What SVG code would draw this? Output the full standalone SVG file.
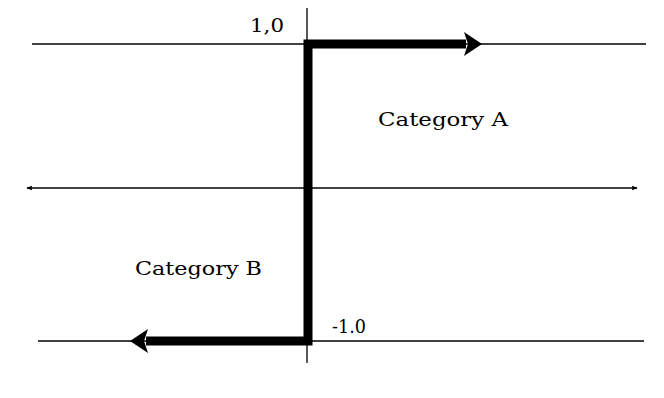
<svg xmlns="http://www.w3.org/2000/svg" width="664" height="398" viewBox="0 0 664 398">
  <style>
    .thin { stroke: #000; stroke-width: 1.3; fill: none; }
    .thick { stroke: #000; stroke-width: 9; fill: none; stroke-linejoin: miter; }
    .lbl { font-family: "DejaVu Serif", "Liberation Serif", serif; font-size: 19px; fill: #000; }
  </style>
  <defs>
    <marker id="small" viewBox="0 0 10 10" refX="9" refY="5" markerWidth="6" markerHeight="6" orient="auto-start-reverse" markerUnits="userSpaceOnUse">
      <path d="M0,1 L10,5 L0,9 L2,5 Z" fill="#000"/>
    </marker>
  </defs>
  <rect width="664" height="398" fill="#fff"/>

  <g id="axes">
    <line class="thin" x1="32" y1="44" x2="646" y2="44"/>
    <line class="thin" x1="38" y1="341" x2="644" y2="341"/>
    <line class="thin" x1="307" y1="8" x2="307" y2="44"/>
    <line class="thin" x1="307" y1="341" x2="307" y2="363"/>
  </g>

  <g id="connectors">
    <line class="thin" x1="27" y1="188" x2="637" y2="188" marker-start="url(#small)" marker-end="url(#small)"/>
    <path class="thick" d="M466,44 H308 V341 H146"/>
    <path d="M482,44 L464,32 L468,44 L464,56 Z" fill="#000"/>
    <path d="M130,341 L148,329 L144,341 L148,353 Z" fill="#000"/>
  </g>

  <g id="label-top">
    <text class="lbl" x="250" y="32" textLength="34" lengthAdjust="spacingAndGlyphs">1,0</text>
  </g>
  <g id="label-bottom">
    <text class="lbl" x="332" y="333" textLength="34" lengthAdjust="spacingAndGlyphs">-1.0</text>
  </g>
  <g id="category-a">
    <text class="lbl" x="378" y="126" textLength="130" lengthAdjust="spacingAndGlyphs">Category A</text>
  </g>
  <g id="category-b">
    <text class="lbl" x="135" y="275" textLength="127" lengthAdjust="spacingAndGlyphs">Category B</text>
  </g>
</svg>
